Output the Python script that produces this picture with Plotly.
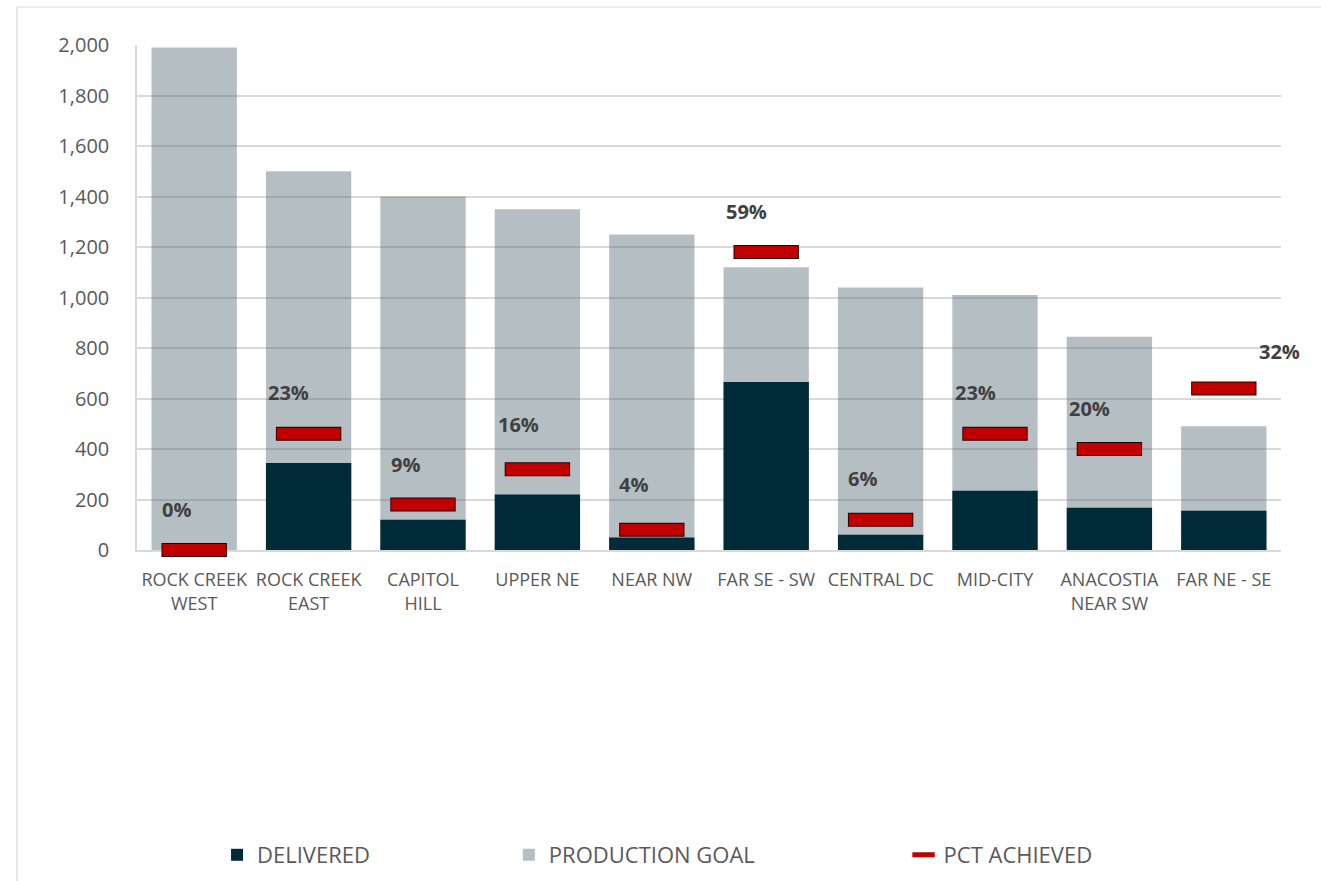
import plotly.graph_objects as go

# ---------------- data ----------------
categories = ["ROCK CREEK<br>WEST", "ROCK CREEK<br>EAST", "CAPITOL<br>HILL", "UPPER NE", "NEAR NW",
              "FAR SE - SW", "CENTRAL DC", "MID-CITY", "ANACOSTIA<br>NEAR SW", "FAR NE - SE"]
production_goal = [1990, 1500, 1400, 1350, 1250, 1120, 1040, 1010, 845, 490]
delivered = [0, 345, 120, 220, 50, 665, 60, 235, 167, 155]
pct_achieved = [0.00, 0.23, 0.09, 0.16, 0.04, 0.59, 0.06, 0.23, 0.20, 0.32]
pct_labels = ["0%", "23%", "9%", "16%", "4%", "59%", "6%", "23%", "20%", "32%"]

# label offsets (pixels) - styling only
label_dx = [-18, -20, -18, -19, -18, -20, -18, -20, -20, 56]
label_dy = [41, 41, 40, 45, 45, 41, 41, 41, 41, 37]

FONT = "Open Sans"
GRID = "#D9D9D9"
TXT = "#595959"

fig = go.Figure()

fig.add_trace(go.Bar(
    x=categories, y=production_goal, name="PRODUCTION GOAL",
    marker=dict(color="rgba(79,103,112,0.42)", line=dict(width=0)),
    legend="legend2",
))
fig.add_trace(go.Bar(
    x=categories, y=delivered, name="DELIVERED",
    marker=dict(color="#022B3A", line=dict(width=0)),
    legend="legend",
))
# outline for the pct markers
fig.add_trace(go.Scatter(
    x=categories, y=pct_achieved, yaxis="y2", mode="markers",
    marker=dict(symbol="line-ew", size=46.7, line=dict(width=14, color="#2a0000")),
    showlegend=False, cliponaxis=False, hoverinfo="skip",
))
fig.add_trace(go.Scatter(
    x=categories, y=pct_achieved, yaxis="y2", mode="markers", name="PCT ACHIEVED",
    marker=dict(symbol="line-ew", size=45.3, color="#C00000", line=dict(width=12, color="#C00000")),
    cliponaxis=False, legend="legend3",
))

for c, p, t, dx, dy in zip(categories, pct_achieved, pct_labels, label_dx, label_dy):
    fig.add_annotation(
        x=c, y=p, yref="y2", text=t, showarrow=False,
        xshift=dx, yshift=dy, xanchor="center", yanchor="middle",
        font=dict(family=FONT, size=20, color="#404040", weight="bold"),
    )

# chart border (light grey frame)
fig.add_shape(type="rect", xref="paper", yref="paper",
              x0=-0.1049, x1=1.05, y0=-0.70, y1=1.0752,
              line=dict(color=GRID, width=1.2), fillcolor="rgba(0,0,0,0)", layer="below")

legend_common = dict(orientation="h", xref="container", yref="container",
                     yanchor="middle", y=0.0295, xanchor="left",
                     font=dict(family=FONT, size=22, color=TXT), bgcolor="rgba(0,0,0,0)",
                     itemsizing="trace")

fig.update_layout(
    width=1321, height=881,
    margin=dict(l=137, r=40, t=45, b=331, autoexpand=False),
    paper_bgcolor="white", plot_bgcolor="white",
    barmode="overlay", bargap=0.254,
    font=dict(family=FONT, color=TXT),
    xaxis=dict(range=[-0.5, 9.5], showline=True, linecolor=GRID, linewidth=1.5, showgrid=False,
               tickfont=dict(family=FONT, size=18, color=TXT), ticks="", tickangle=0,
               ticklabelstandoff=13, layer="below traces"),
    yaxis=dict(range=[0, 2000], dtick=200, tickformat=",", showgrid=True, gridcolor=GRID, gridwidth=1.5,
               showline=True, linecolor=GRID, linewidth=1.5, zeroline=False,
               tickfont=dict(family=FONT, size=20, color=TXT), ticks="", ticklabelstandoff=22,
               layer="below traces"),
    yaxis2=dict(range=[0, 1], overlaying="y", side="right", showgrid=False, zeroline=False,
                showticklabels=False, showline=False),
    legend=dict(x=0.1643, **legend_common),
    legend2=dict(x=0.3852, **legend_common),
    legend3=dict(x=0.684, **legend_common),
    showlegend=True,
)

fig.write_html("out.html", config={"displayModeBar": False},
               post_script="document.body.style.margin='0';")
